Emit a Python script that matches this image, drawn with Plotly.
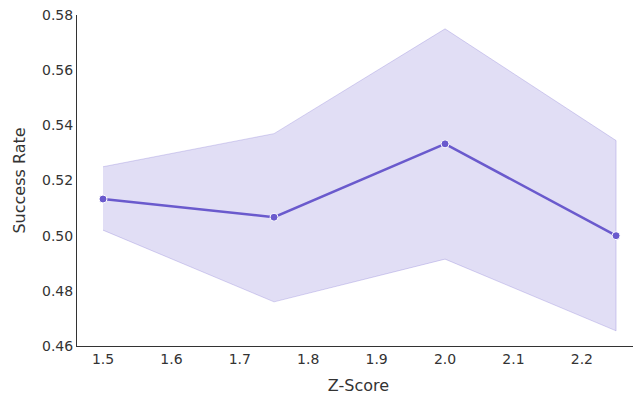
import plotly.graph_objects as go

z_scores = [1.5, 1.75, 2.0, 2.25]
success_rate = [0.5133, 0.5067, 0.5333, 0.5000]
ci_upper = [0.525, 0.537, 0.575, 0.5345]
ci_lower = [0.502, 0.476, 0.4915, 0.4655]

color = "#6a5acd"
fig = go.Figure()
fig.add_trace(go.Scatter(
    x=z_scores + z_scores[::-1],
    y=ci_upper + ci_lower[::-1],
    fill="toself", fillcolor="rgba(106,90,205,0.2)",
    line=dict(color="rgba(106,90,205,0.25)", width=1),
    mode="lines", hoverinfo="skip", showlegend=False))
fig.add_trace(go.Scatter(
    x=z_scores, y=success_rate, mode="lines+markers",
    line=dict(color=color, width=2.5),
    marker=dict(size=8, color=color, line=dict(color="white", width=1)),
    showlegend=False))

axis_common = dict(showgrid=False, zeroline=False, showline=True,
                   linecolor="#333333", linewidth=1, ticks="",
                   ticklabeloverflow="allow",
                   tickfont=dict(family="DejaVu Sans", size=14, color="#333333"),
                   title_font=dict(family="DejaVu Sans", size=16, color="#333333"))
fig.update_layout(
    width=633, height=388,
    margin=dict(l=69, r=1, t=7, b=50, autoexpand=False),
    plot_bgcolor="white", paper_bgcolor="white",
    font=dict(family="DejaVu Sans", color="#333333"),
    xaxis=dict(range=[1.462, 2.285], tickvals=[1.5, 1.6, 1.7, 1.8, 1.9, 2.0, 2.1, 2.2],
               ticktext=["1.5", "1.6", "1.7", "1.8", "1.9", "2.0", "2.1", "2.2"],
               title=dict(text="Z-Score", standoff=14), **axis_common),
    yaxis=dict(range=[0.46, 0.58002], tickvals=[0.46, 0.48, 0.50, 0.52, 0.54, 0.56, 0.58],
               ticktext=["0.46", "0.48", "0.50", "0.52", "0.54", "0.56", "0.58"],
               title=dict(text="Success Rate", standoff=12), **axis_common),
)
fig.write_html("out.html")
